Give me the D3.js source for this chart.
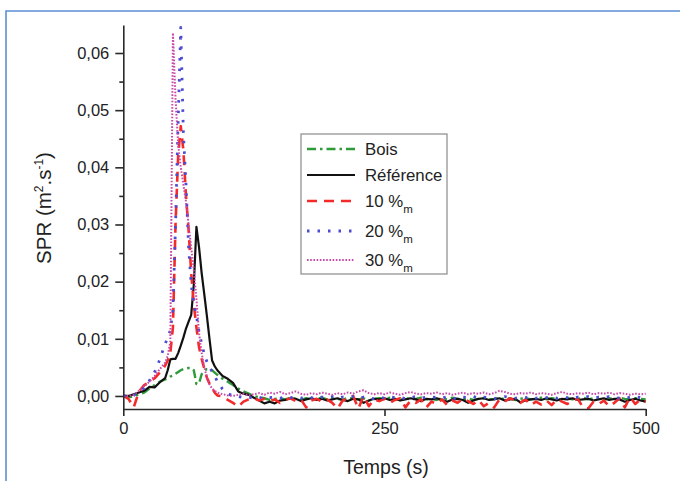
<!DOCTYPE html>
<html>
<head>
<meta charset="utf-8">
<script src="https://cdn.jsdelivr.net/npm/d3@7"></script>
<style>
  html, body { margin: 0; padding: 0; background: #fff; }
  svg { display: block; }
  text { font-family: "Liberation Sans", Arial, sans-serif; fill: #222; }
</style>
</head>
<body>
<svg id="chart" width="680" height="481"></svg>
<script>
// ---- sample times (s) ----
const times = [0,5,10,15,20,25,30,35,
  40,42.5,45,47.5,50,52.5,55,57.5,60,62.5,65,67.5,70,72.5,75,77.5,80,82.5,85,87.5,
  90,95,100,105,110,115,120,125,130,135,140,145,150,155,160,165,170,175,180,185,190,
  195,200,205,210,215,220,225,230,235,240,245,250,255,260,265,270,275,280,285,290,
  295,300,305,310,315,320,325,330,335,340,345,350,355,360,365,370,375,380,385,390,
  395,400,405,410,415,420,425,430,435,440,445,450,455,460,465,470,475,480,485,490,495,500];

// ---- series values, SPR (m2.s-1) ----
const bois = [0,-0.0002,-0.0001,0.0003,0.0006,0.0013,0.0019,0.0025,
  0.0029,0.0031,0.0034,0.0036,0.0039,0.0042,0.0045,0.0047,0.0048,0.0049,0.0049,0.0045,0.0021,0.0022,0.0038,0.0044,0.0047,0.0047,0.0045,0.0041,
  0.0037,
  0.0030,0.0025,0.0019,0.0013,0.0008,0.0004,0.0000,-0.0002,-0.0004,-0.0007,
  -0.0005,-0.0004,-0.0006,-0.0003,-0.0005,-0.0007,-0.0004,-0.0006,-0.0005,-0.0003,
  -0.0006,-0.0004,-0.0005,-0.0007,-0.0003,-0.0005,-0.0006,-0.0004,-0.0008,-0.0005,
  -0.0004,-0.0006,-0.0003,-0.0005,-0.0007,-0.0004,-0.0006,-0.0005,-0.0003,-0.0006,
  -0.0005,-0.0007,-0.0004,-0.0006,-0.0003,-0.0005,-0.0006,-0.0004,-0.0007,-0.0005,
  -0.0004,-0.0006,-0.0005,-0.0003,-0.0006,-0.0004,-0.0007,-0.0005,-0.0004,-0.0006,
  -0.0005,-0.0003,-0.0006,-0.0004,-0.0005,-0.0007,-0.0004,-0.0006,-0.0005,-0.0003,
  -0.0006,-0.0004,-0.0005,-0.0007,-0.0004,-0.0006,-0.0003,-0.0005,-0.0006,-0.0004,
  -0.0005,-0.0006];

const reference = [0,0,0.0003,0.0006,0.0009,0.0016,0.0015,0.0024,
  0.0031,0.0045,0.0064,0.0065,0.0065,0.0075,0.0088,0.0102,0.0118,0.0130,0.0142,0.0195,0.0296,0.0260,0.0215,0.0178,0.0140,0.0100,0.0062,0.0052,
  0.0045,
  0.0035,0.0030,0.0023,0.0008,0.0004,0.0002,-0.0003,-0.0008,-0.0013,-0.0010,
  -0.0013,-0.0008,-0.0007,-0.0004,-0.0005,-0.0009,-0.0006,-0.0004,-0.0007,-0.0005,
  -0.0008,-0.0006,-0.0004,-0.0007,-0.0009,-0.0005,-0.0006,-0.0012,-0.0008,-0.0005,
  -0.0006,-0.0004,-0.0007,-0.0005,-0.0008,-0.0006,-0.0004,-0.0006,-0.0009,-0.0005,
  -0.0006,-0.0004,-0.0007,-0.0010,-0.0006,-0.0005,-0.0007,-0.0012,-0.0008,-0.0005,
  -0.0004,-0.0007,-0.0006,-0.0004,-0.0008,-0.0006,-0.0005,-0.0011,-0.0008,-0.0006,
  -0.0005,-0.0007,-0.0004,-0.0006,-0.0008,-0.0005,-0.0006,-0.0004,-0.0007,-0.0006,
  -0.0005,-0.0008,-0.0006,-0.0004,-0.0007,-0.0005,-0.0006,-0.0010,-0.0007,-0.0005,
  -0.0008,-0.0010];

const pct10 = [0,-0.0005,-0.0020,0.0008,0.0019,0.0025,0.0031,0.0041,
  0.0053,0.0062,0.0075,0.0120,0.0300,0.0420,0.0472,0.0430,0.0350,0.0290,0.0215,0.0160,0.0120,0.0085,0.0065,0.0048,0.0032,0.0022,0.0013,0.0006,
  0.0001,
  -0.0001,-0.0007,-0.0012,-0.0019,-0.0010,-0.0006,-0.0004,-0.0008,-0.0005,-0.0009,
  -0.0006,-0.0012,-0.0007,-0.0004,-0.0009,-0.0006,-0.0020,-0.0008,-0.0005,-0.0010,
  -0.0006,-0.0012,-0.0022,-0.0008,-0.0004,0.0000,-0.0022,0.0000,-0.0018,-0.0006,
  -0.0009,-0.0005,-0.0012,-0.0007,-0.0004,-0.0020,-0.0008,-0.0012,-0.0006,-0.0020,
  -0.0010,-0.0014,-0.0006,-0.0016,-0.0008,-0.0012,-0.0005,-0.0009,-0.0014,-0.0007,
  -0.0018,-0.0012,-0.0020,-0.0006,-0.0010,-0.0004,-0.0008,-0.0012,-0.0006,-0.0016,
  -0.0010,-0.0015,-0.0008,-0.0016,-0.0006,-0.0010,-0.0014,-0.0008,-0.0005,-0.0020,
  -0.0022,-0.0010,-0.0014,-0.0008,-0.0018,-0.0012,-0.0004,-0.0020,-0.0002,-0.0014,
  -0.0006,-0.0010];

const pct20 = [0,-0.0001,0.0001,0.0007,0.0014,0.0027,0.0042,0.0064,
  0.0091,0.0102,0.0115,0.0150,0.0300,0.0480,0.0645,0.0460,0.0370,0.0260,0.0195,0.0162,0.0140,0.0112,0.0092,0.0073,0.0060,0.0050,0.0043,0.0035,
  0.0025,
  0.0012,0.0004,0.0000,-0.0001,-0.0003,-0.0002,-0.0004,-0.0002,-0.0005,-0.0003,
  -0.0002,-0.0004,-0.0001,-0.0003,-0.0002,-0.0004,-0.0001,-0.0003,-0.0005,-0.0002,
  -0.0003,-0.0001,-0.0004,-0.0002,-0.0003,-0.0001,-0.0004,-0.0002,-0.0003,-0.0005,
  -0.0002,-0.0004,-0.0001,-0.0003,-0.0002,-0.0005,-0.0003,-0.0001,-0.0004,-0.0002,
  -0.0003,-0.0002,-0.0004,-0.0001,-0.0003,-0.0006,-0.0002,-0.0003,-0.0001,-0.0004,
  -0.0002,-0.0003,-0.0005,-0.0002,-0.0001,-0.0003,-0.0004,-0.0002,-0.0003,-0.0001,
  -0.0004,-0.0002,-0.0003,-0.0001,-0.0004,-0.0002,-0.0003,-0.0005,-0.0002,-0.0003,
  -0.0001,-0.0004,-0.0002,-0.0003,-0.0001,-0.0003,-0.0004,-0.0002,-0.0003,-0.0001,
  -0.0003,-0.0002];

const pct30 = [0,0,0.0002,0.0009,0.0017,0.0025,0.0035,0.0047,
  0.0058,0.0070,0.0095,0.0635,0.0520,0.0440,0.0400,0.0370,0.0340,0.0300,0.0260,0.0220,0.0170,0.0110,0.0075,0.0050,0.0033,0.0020,0.0013,0.0009,
  0.0006,
  0.0003,0.0001,0.0000,0.0002,0.0004,0.0001,0.0003,0.0005,0.0002,0.0006,
  0.0004,0.0007,0.0003,0.0005,0.0008,0.0004,0.0002,0.0005,0.0003,0.0006,
  0.0004,0.0002,0.0005,0.0003,0.0006,0.0004,0.0008,0.0010,0.0005,0.0003,
  0.0005,0.0003,0.0006,0.0004,0.0002,0.0005,0.0007,0.0004,0.0003,0.0005,
  0.0004,0.0006,0.0003,0.0005,0.0002,0.0004,0.0006,0.0003,0.0005,0.0004,
  0.0006,0.0003,0.0005,0.0009,0.0007,0.0004,0.0003,0.0005,0.0004,0.0006,
  0.0003,0.0005,0.0004,0.0002,0.0005,0.0007,0.0004,0.0003,0.0005,0.0004,
  0.0006,0.0003,0.0005,0.0004,0.0006,0.0003,0.0005,0.0004,0.0002,0.0004,
  0.0003,0.0004];

// ---- axis ticks ----
const xTicks = [0, 250, 500];
const yTicks = [0, 0.01, 0.02, 0.03, 0.04, 0.05, 0.06];
const yMinorTicks = [0.005, 0.015, 0.025, 0.035, 0.045, 0.055];

// ---- series meta ----
const seriesNames = ["Bois", "Référence", "10 %", "20 %", "30 %"];
const seriesSubs = ["", "", "m", "m", "m"];
const seriesData = [bois, reference, pct10, pct20, pct30];
const seriesColors = ["#2f9a3a", "#111111", "#f42a2a", "#4a4ad2", "#c84aa8"];
const seriesDash = ["9,4,2.5,4", null, "10,7", "2.5,8", "1.6,1.6"];
const seriesWidth = [2.4, 2.2, 2.6, 2.8, 2];

const svg = d3.select("#chart");

// frame
svg.append("path")
  .attr("d", "M6,481 L6,11 L680,11")
  .attr("fill", "none").attr("stroke", "#5b8fd4").attr("stroke-width", 1.6);

const x = d3.scaleLinear().domain([0, 500]).range([123.3, 645.7]);
const y = d3.scaleLinear().domain([-0.00228, 0.0649]).range([409, 25]);

// lines
const line = d3.line().x((d, i) => x(times[i])).y(d => y(d));
const gLines = svg.append("g");
seriesData.forEach((vals, k) => {
  gLines.append("path")
    .datum(vals)
    .attr("d", line)
    .attr("fill", "none")
    .attr("stroke", seriesColors[k])
    .attr("stroke-width", seriesWidth[k])
    .attr("stroke-dasharray", seriesDash[k])
    .attr("stroke-linejoin", "round");
});

const fmt = v => d3.format(".2f")(v).replace(".", ",");

// y axis
const yAxis = svg.append("g").attr("transform", `translate(${x(0)},0)`)
  .call(d3.axisLeft(y).tickValues(yTicks).tickFormat(fmt).tickSize(8).tickSizeOuter(0).tickPadding(6));
const yMinor = svg.append("g").attr("transform", `translate(${x(0)},0)`)
  .call(d3.axisLeft(y).tickValues(yMinorTicks).tickFormat("").tickSize(4).tickSizeOuter(0));
yMinor.select(".domain").remove();

// x axis
const xAxis = svg.append("g").attr("transform", `translate(0,${y.range()[0]})`)
  .call(d3.axisBottom(x).tickValues(xTicks).tickFormat(d3.format("d")).tickSize(7).tickSizeOuter(0).tickPadding(6));

[yAxis, yMinor, xAxis].forEach(g => {
  g.selectAll("path,line").attr("stroke", "#2a2a2a").attr("stroke-width", 1.6);
  g.selectAll("text").attr("font-size", 16.5).attr("fill", "#333")
    .attr("font-family", '"Liberation Sans", Arial, sans-serif');
});

// axis titles
svg.append("text")
  .attr("x", 386).attr("y", 474)
  .attr("text-anchor", "middle").attr("font-size", 19.5)
  .text("Temps (s)");

const yt = svg.append("text")
  .attr("transform", "translate(51,208) rotate(-90)")
  .attr("text-anchor", "middle").attr("font-size", 20.5);
yt.append("tspan").text("SPR (m");
yt.append("tspan").attr("font-size", 12).attr("dy", -8).text("2");
yt.append("tspan").attr("dy", 8).text(".s");
yt.append("tspan").attr("font-size", 12).attr("dy", -8).text("-1");
yt.append("tspan").attr("dy", 8).text(")");

// legend
const lg = svg.append("g");
lg.append("rect").attr("x", 301).attr("y", 134).attr("width", 146).attr("height", 140)
  .attr("fill", "#fff").attr("stroke", "#8a8a8a").attr("stroke-width", 1.2);
const legendY = [149, 175, 201, 231, 260];
seriesNames.forEach((name, k) => {
  const ly = legendY[k];
  lg.append("line").attr("x1", 307).attr("x2", 355).attr("y1", ly).attr("y2", ly)
    .attr("stroke", seriesColors[k]).attr("stroke-width", seriesWidth[k])
    .attr("stroke-dasharray", seriesDash[k]);
  const t = lg.append("text").attr("x", 365).attr("y", ly + 6).attr("font-size", 16.8);
  t.append("tspan").text(name);
  if (seriesSubs[k]) t.append("tspan").attr("font-size", 11.5).attr("dy", 6).text(seriesSubs[k]);
});
</script>
</body>
</html>
